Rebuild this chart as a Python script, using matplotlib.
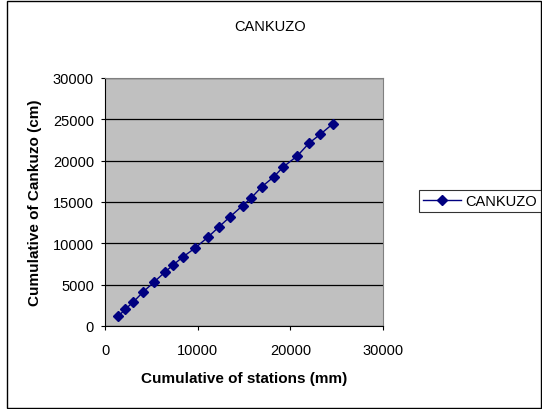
import matplotlib.pyplot as plt
from matplotlib.patches import Rectangle

plt.rcParams['font.family'] = ['Liberation Sans', 'DejaVu Sans']

# Cumulative totals
cum_stations = [1435, 2157, 3053, 4100, 5286, 6472, 7335, 8378, 9709, 11146,
                12298, 13518, 14851, 15750, 16904, 18198, 19234, 20744, 22040,
                23230, 24560]
cum_cankuzo = [1160, 2005, 2900, 4106, 5314, 6522, 7367, 8333, 9420, 10785,
               11993, 13237, 14565, 15459, 16824, 18031, 19240, 20568, 22138,
               23188, 24432]

W, H = 542, 410
fig = plt.figure(figsize=(W / 100, H / 100), dpi=100)

# chart area frame
fig.patches.append(Rectangle((7 / W, 1 / H), (W - 8) / W, (H - 3) / H,
                             transform=fig.transFigure, fill=False,
                             edgecolor='black', linewidth=1.0))

left, right, top, bottom = 105, 383, 79, 327
ax = fig.add_axes([left / W, 1 - bottom / H, (right - left) / W, (bottom - top) / H])
ax.set_facecolor('#c0c0c0')

ax.plot(cum_stations, cum_cankuzo, color='#000080', linewidth=1,
        marker='D', markersize=5, markerfacecolor='#000080',
        markeredgecolor='#000080', label='CANKUZO')

ax.set_xlim(0, 30000)
ax.set_ylim(0, 30000)
ax.set_xticks(range(0, 30001, 10000))
ax.set_yticks(range(0, 30001, 5000))
ax.grid(axis='y', color='black', linewidth=0.9)
ax.set_axisbelow(True)

for side in ['top', 'right']:
    ax.spines[side].set_color('#808080')
    ax.spines[side].set_linewidth(0.8)
for side in ['left', 'bottom']:
    ax.spines[side].set_color('black')
    ax.spines[side].set_linewidth(0.8)

ax.tick_params(direction='out', length=3, width=0.8, labelsize=10.5)
ax.tick_params(axis='x', pad=9)
ax.tick_params(axis='y', pad=5)

fig.text(270 / W, 1 - 27 / H, 'CANKUZO', fontsize=10.5, ha='center', va='center')
ax.set_xlabel('Cumulative of stations (mm)', fontsize=11, fontweight='bold', labelpad=10)
ax.set_ylabel('Cumulative of Cankuzo (cm)', fontsize=11, fontweight='bold', labelpad=8)

leg = fig.legend(loc='center', bbox_to_anchor=(480 / W, 1 - 202 / H), fontsize=10.5,
                 frameon=True, fancybox=False, edgecolor='black', handlelength=2.6,
                 borderpad=0.3, handletextpad=0.3)
leg.get_frame().set_linewidth(0.8)

fig.savefig('out.png', dpi=100)
